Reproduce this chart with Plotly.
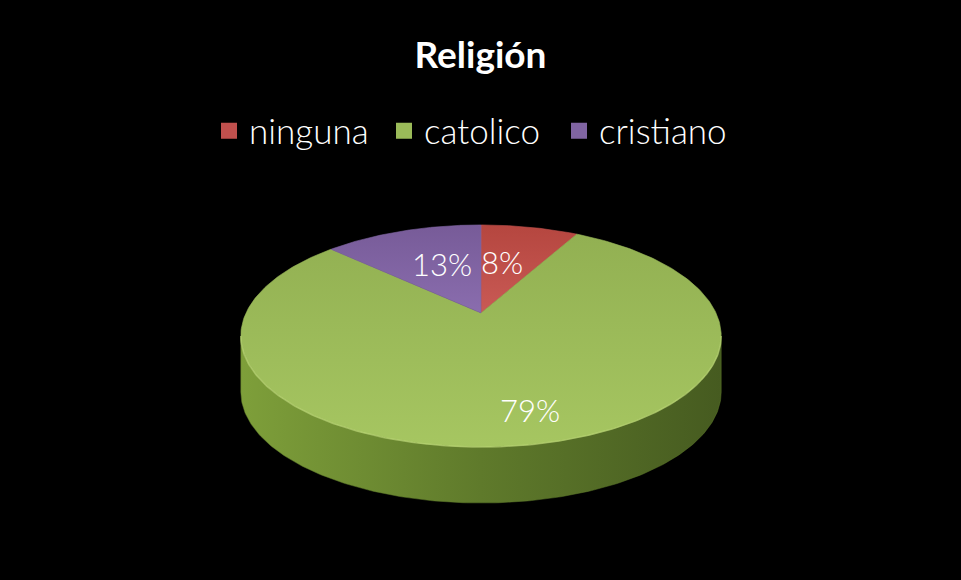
import numpy as np
import plotly.graph_objects as go

# Religion survey shares (percent)
categories = ["ninguna", "catolico", "cristiano"]
percentages = [8, 79, 13]

# Styling per slice: top face colour, top gradient (light -> dark)
top_colors = ["#C0504D", "#9BBB59", "#8064A2"]
top_gradients = [
    [[0, "#C95A55"], [1, "#B5463F"]],
    [[0, "#A6C661"], [1, "#92B052"]],
    [[0, "#8A6DAE"], [1, "#775B98"]],
]
side_gradients = [
    [[0, "#A8443F"], [1, "#6E2A27"]],
    [[0, "#7E9F3A"], [0.5, "#5F7A2B"], [1, "#465B20"]],
    [[0, "#6E5590"], [1, "#4A3863"]],
]

W, H = 961, 580
# Perspective disc geometry (pixels)
CX, CY = 481.0, 313.0
RX, RY = 235.0, 106.3
K = 0.207
DEPTH = 56.0


def project(phi, r=1.0):
    """Project a point of the unit disc (angle clockwise from the far edge)."""
    u = r * np.sin(phi)
    v = -r * np.cos(phi)
    s = 1.0 / (1.0 - K * v)
    return CX + RX * u * s, CY + RY * v * s


fig = go.Figure()

total = float(sum(percentages))
bounds = np.concatenate([[0.0], np.cumsum(percentages) / total * 2 * np.pi])

# Visible front wall spans between the silhouette extremes
phi_left = np.arccos(-K)
phi_right = 2 * np.pi - phi_left

# Side walls
for i, name in enumerate(categories):
    a, b = max(bounds[i], phi_left), min(bounds[i + 1], phi_right)
    if b <= a:
        continue
    ph = np.linspace(a, b, 200)
    xt, yt = project(ph)
    xs = np.concatenate([xt, xt[::-1], xt[:1]])
    ys = np.concatenate([yt, yt[::-1] + DEPTH, yt[:1]])
    fig.add_trace(go.Scatter(
        x=xs, y=ys, mode="lines", fill="toself",
        line=dict(width=0.5, color=side_gradients[i][1][1]),
        fillgradient=dict(type="horizontal", colorscale=side_gradients[i]),
        hoverinfo="skip", showlegend=False,
    ))

# Top faces
for i, name in enumerate(categories):
    ph = np.linspace(bounds[i], bounds[i + 1], 300)
    xt, yt = project(ph)
    xs = np.concatenate([[CX], xt, [CX]])
    ys = np.concatenate([[CY], yt, [CY]])
    fig.add_trace(go.Scatter(
        x=xs, y=ys, mode="lines", fill="toself",
        line=dict(width=0.6, color=top_colors[i]),
        fillgradient=dict(type="vertical", colorscale=top_gradients[i]),
        hoverinfo="skip", showlegend=False,
    ))

# Soft highlight along the front rim
ph = np.linspace(phi_left, phi_right, 300)
xr, yr = project(ph)
fig.add_trace(go.Scatter(
    x=xr, y=yr, mode="lines", line=dict(width=1.5, color="rgba(200,225,130,0.5)"),
    hoverinfo="skip", showlegend=False,
))

# Legend entries
for i, name in enumerate(categories):
    fig.add_trace(go.Scatter(
        x=[None], y=[None], mode="markers", name=name,
        marker=dict(symbol="square", size=17, color=top_colors[i]),
    ))

# Percentage labels placed along each slice's mid angle
label_r = [0.55, 0.78, 0.55]
label_dx = [-8, 15, 7]
for i, p in enumerate(percentages):
    mid = (bounds[i] + bounds[i + 1]) / 2
    lx, ly = project(mid, label_r[i])
    fig.add_annotation(
        x=lx, y=ly, text=f"{p}%", showarrow=False, xshift=label_dx[i],
        font=dict(family="Lato", size=31, color="white", weight=300),
    )

fig.update_layout(
    width=W, height=H,
    paper_bgcolor="black", plot_bgcolor="black",
    margin=dict(l=0, r=0, t=0, b=0),
    title=dict(
        text="<b>Religión</b>", x=0.5, xanchor="center",
        y=1 - 55 / H, yanchor="middle", yref="container",
        font=dict(family="Lato", size=37, color="white"),
    ),
    legend=dict(
        orientation="h", x=0.5 - 9 / W, xanchor="center",
        y=1 - 131 / H, yanchor="middle",
        font=dict(family="Lato", size=35, color="white", weight=300),
        entrywidth=130,
        bgcolor="rgba(0,0,0,0)", itemclick=False, itemdoubleclick=False,
    ),
    xaxis=dict(range=[0, W], visible=False, fixedrange=True),
    yaxis=dict(range=[H, 0], visible=False, fixedrange=True),
    showlegend=True,
)

fig.write_html("out.html", config={"displayModeBar": False})
